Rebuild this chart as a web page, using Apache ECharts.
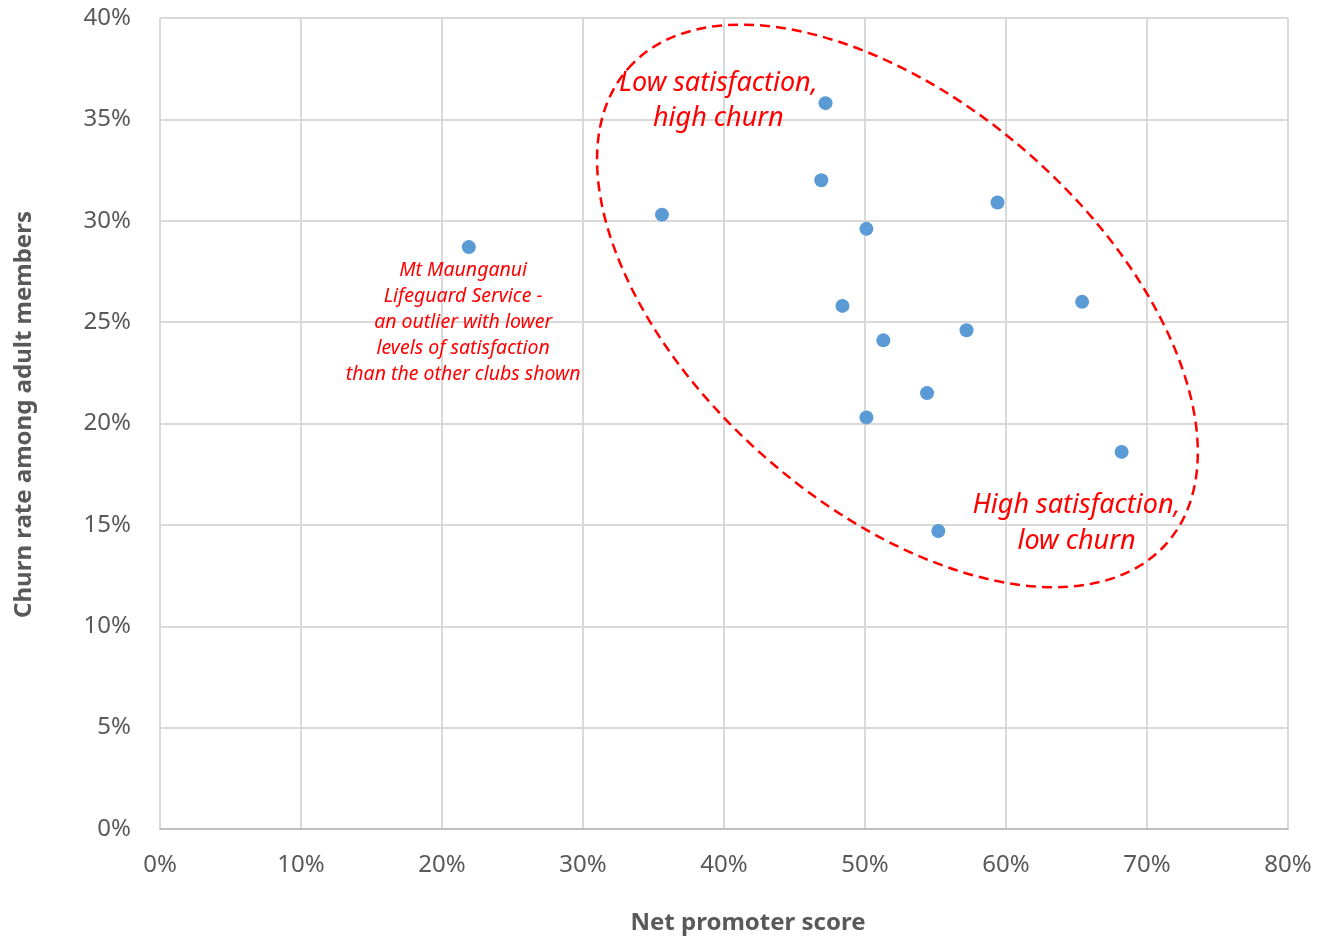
<!DOCTYPE html>
<html>
<head>
<meta charset="utf-8">
<script src="https://cdn.jsdelivr.net/npm/echarts@6/dist/echarts.min.js"></script>
<style>
  html, body { margin: 0; padding: 0; background: #fff; }
  #chart { width: 1319px; height: 940px; }
</style>
</head>
<body>
<div id="chart"></div>
<script>
// Club results: net promoter score (%) vs churn among adult members (%)
const npsValues   = [21.9, 35.6, 47.2, 46.9, 50.1, 59.4, 48.4, 51.3, 57.2, 65.4, 54.4, 50.1, 68.2, 55.2];
const churnValues = [28.7, 30.3, 35.8, 32.0, 29.6, 30.9, 25.8, 24.1, 24.6, 26.0, 21.5, 20.3, 18.6, 14.7];

const xTicks = [0, 10, 20, 30, 40, 50, 60, 70, 80];
const yTicks = [0, 5, 10, 15, 20, 25, 30, 35, 40];

// Annotation texts and their anchor points (data units)
const noteLow     = { text: 'Low satisfaction,\nhigh churn', x: 39.6, y: 35.9 };
const noteHigh    = { text: 'High satisfaction,\nlow churn', x: 65.0, y: 15.1 };
const noteOutlier = { text: 'Mt Maunganui\nLifeguard Service -\nan outlier with lower\nlevels of satisfaction\nthan the other clubs shown', x: 21.5, y: 25.0 };

// Grouping ellipse: centre in data units, semi-axes in pixels, tilt in degrees (clockwise)
const ellipseCentre = { x: 52.3, y: 25.8 };
const ellipseShape = { rx: 359, ry: 201, tilt: 41.4 };

const points = npsValues.map((v, i) => [v, churnValues[i]]);

const axisText = { color: '#595959', fontFamily: 'Noto Sans', fontSize: 24 };
const nameText = { color: '#595959', fontFamily: 'Noto Sans', fontSize: 24, fontWeight: 'bold' };
const noteFont = { fill: '#ff0000', fontFamily: 'Noto Sans', fontStyle: 'italic', align: 'center', verticalAlign: 'middle' };

const chart = echarts.init(document.getElementById('chart'), null, { renderer: 'canvas' });

chart.setOption({
  animation: false,
  backgroundColor: '#ffffff',
  grid: { left: 160, right: 31, top: 18, bottom: 110, containLabel: false },
  xAxis: {
    type: 'value', min: xTicks[0], max: xTicks[xTicks.length - 1], interval: 10,
    name: 'Net promoter score', nameLocation: 'middle', nameGap: 82,
    nameTextStyle: Object.assign({ padding: [0, 0, 0, 48] }, nameText),
    axisLine: { show: true, lineStyle: { color: '#bfbfbf', width: 2 } },
    axisTick: { show: false },
    axisLabel: Object.assign({ margin: 24, formatter: v => v + '%' }, axisText),
    splitLine: { show: true, lineStyle: { color: '#d9d9d9', width: 2 } }
  },
  yAxis: {
    type: 'value', min: yTicks[0], max: yTicks[yTicks.length - 1], interval: 5,
    name: 'Churn rate among adult members', nameLocation: 'middle', nameGap: 124,
    nameTextStyle: Object.assign({ padding: [0, 0, 0, 18] }, nameText),
    axisLine: { show: false },
    axisTick: { show: false },
    axisLabel: Object.assign({ margin: 29, formatter: v => v + '%' }, axisText),
    splitLine: { show: true, lineStyle: { color: '#d9d9d9', width: 2 } }
  },
  series: [{
    type: 'scatter',
    data: points,
    symbolSize: 14,
    itemStyle: { color: '#5b9bd5', opacity: 1 }
  }]
});

function drawAnnotations() {
  const c = chart.convertToPixel({ gridIndex: 0 }, [ellipseCentre.x, ellipseCentre.y]);
  const low = chart.convertToPixel({ gridIndex: 0 }, [noteLow.x, noteLow.y]);
  const high = chart.convertToPixel({ gridIndex: 0 }, [noteHigh.x, noteHigh.y]);
  const out = chart.convertToPixel({ gridIndex: 0 }, [noteOutlier.x, noteOutlier.y]);
  chart.setOption({
    graphic: [
      {
        type: 'ellipse', x: c[0], y: c[1],
        rotation: -ellipseShape.tilt * Math.PI / 180,
        shape: { cx: 0, cy: 0, rx: ellipseShape.rx, ry: ellipseShape.ry },
        style: { fill: 'none', stroke: '#ff0000', lineWidth: 2.5, lineDash: [10, 6] },
        z: 10
      },
      {
        type: 'text', x: low[0], y: low[1],
        style: Object.assign({ text: noteLow.text, fontSize: 27, lineHeight: 35 }, noteFont),
        z: 11
      },
      {
        type: 'text', x: high[0], y: high[1],
        style: Object.assign({ text: noteHigh.text, fontSize: 27, lineHeight: 36 }, noteFont),
        z: 11
      },
      {
        type: 'text', x: out[0], y: out[1],
        style: Object.assign({ text: noteOutlier.text, fontSize: 19.5, lineHeight: 26 }, noteFont),
        z: 11
      }
    ]
  });
}
drawAnnotations();
</script>
</body>
</html>
